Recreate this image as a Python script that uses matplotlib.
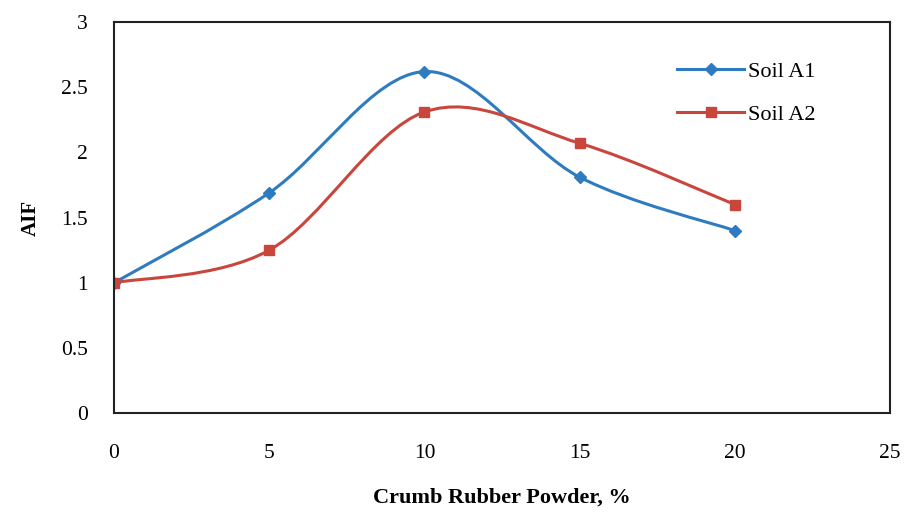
import matplotlib.pyplot as plt
from matplotlib.path import Path
from matplotlib.patches import PathPatch
import numpy as np

plt.rcParams['font.family'] = ['Liberation Serif', 'DejaVu Serif']

crp = [0, 5, 10, 15, 20]
soil_a1 = [1.0, 1.69, 2.62, 1.81, 1.40]
soil_a2 = [1.0, 1.25, 2.31, 2.07, 1.60]

blue = "#2E7BBF"
red = "#C9463D"


def smooth_path(x, y):
    # Excel-like smoothed line: Catmull-Rom as cubic Bezier segments
    p = np.column_stack([x, y]).astype(float)
    verts = [p[0]]
    codes = [Path.MOVETO]
    n = len(p)
    for i in range(n - 1):
        p0 = p[i - 1] if i > 0 else p[i]
        p3 = p[i + 2] if i + 2 < n else p[i + 1]
        c1 = p[i] + (p[i + 1] - p0) / 6
        c2 = p[i + 1] - (p3 - p[i]) / 6
        verts += [c1, c2, p[i + 1]]
        codes += [Path.CURVE4] * 3
    return Path(verts, codes)


fig = plt.figure(figsize=(9.12, 5.12), dpi=100)
ax = fig.add_axes([0.125, 0.193, 0.851, 0.764])

for yv, col, mk, ms, lab in [(soil_a1, blue, "D", 6, "Soil A1"),
                             (soil_a2, red, "s", 7, "Soil A2")]:
    ax.add_patch(PathPatch(smooth_path(crp, yv), facecolor="none",
                           edgecolor=col, lw=2.2))
    ax.plot(crp, yv, linestyle="none", marker=mk, ms=ms, color=col)
    ax.plot([], [], color=col, lw=2.2, marker=mk, ms=ms, label=lab)

ax.set_xlim(0, 25)
ax.set_ylim(0, 3)
ax.set_xticks([0, 5, 10, 15, 20, 25])
ax.set_yticks([0, 0.5, 1, 1.5, 2, 2.5, 3])
ax.set_yticklabels(["0", "0.5", "1", "1.5", "2", "2.5", "3"])
ax.tick_params(length=0, labelsize=15.5, pad=22)
ax.tick_params(axis="y", pad=19)
for s in ax.spines.values():
    s.set_linewidth(1.5)
    s.set_color("#222222")

ax.set_xlabel("Crumb Rubber Powder, %", fontsize=16, fontweight="bold", labelpad=18)
ax.set_ylabel("AIF", fontsize=15, fontweight="bold", labelpad=14)

ax.legend(loc="upper right", bbox_to_anchor=(0.93, 0.95), frameon=False,
          fontsize=16, handlelength=3.0, labelspacing=1.0, handletextpad=0.2)

fig.savefig("out.png", dpi=100)
